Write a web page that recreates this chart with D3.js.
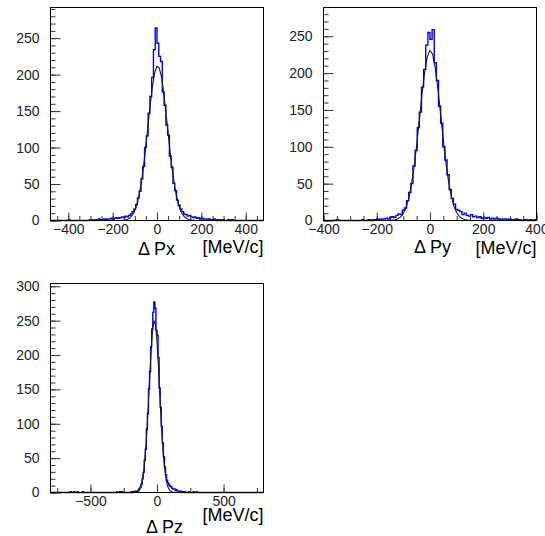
<!DOCTYPE html>
<html>
<head>
<meta charset="utf-8">
<script src="https://cdn.jsdelivr.net/npm/d3@7/dist/d3.min.js"></script>
<style>
    body { margin: 0; background: #fff; }
    svg { display: block; font-family: "Liberation Sans", Arial, sans-serif; }
</style>
</head>
<body>
<svg class="chart"></svg>
<script>
// ---- data ----

// Delta Px : 120 bins of 8 MeV/c from -480 to 480
var pxRange = [-480, 480];
var pxYMax = 292;
var pxCounts = [
    0, 0, 0, 0, 0, 0, 0, 0, 0, 0, 1, 0, 0, 0, 0, 0, 0, 0, 0, 0,
    0, 0, 1, 1, 0, 1, 1, 2, 1, 1, 2, 1, 2, 2, 3, 2, 3, 4, 3, 4,
    5, 4, 6, 5, 7, 9, 12, 16, 22, 31, 40, 57, 74, 100, 116, 147, 170, 196, 234, 264,
    243, 225, 218, 176, 158, 131, 117, 88, 73, 51, 41, 28, 21, 16, 12, 9, 8, 6, 7, 5,
    4, 5, 3, 4, 2, 3, 2, 2, 1, 2, 1, 1, 2, 0, 1, 1, 0, 1, 0, 0,
    1, 0, 1, 0, 0, 0, 0, 0, 0, 0, 0, 0, 0, 0, 0, 0, 0, 0, 0, 0
];
var pxFitX = [-180, -170, -160, -150, -140, -130, -120, -110, -100, -90, -80, -70, -60, -50, -40, -30, -20, -10, 0,
              10, 20, 30, 40, 50, 60, 70, 80, 90, 100, 110, 120, 130, 140, 150, 160, 170];
var pxFitY = [0.04, 0.09, 0.22, 0.5, 1.1, 2.2, 4.3, 7.8, 13.7, 22.7, 35.8, 53.5, 76.1, 102.6, 131.5, 160, 184.9, 203, 211.5,
              209.3, 196.8, 175.6, 148.9, 119.8, 91.6, 66.5, 45.9, 30, 18.7, 11, 6.2, 3.3, 1.7, 0.8, 0.36, 0.16];
var pxXTicks = [-400, -200, 0, 200, 400];
var pxYTicks = [0, 50, 100, 150, 200, 250];

// Delta Py : 100 bins of 8 MeV/c from -400 to 400
var pyRange = [-400, 400];
var pyYMax = 289;
var pyCounts = [
    0, 0, 0, 0, 0, 0, 1, 0, 0, 0, 0, 0, 0, 0, 0, 0, 0, 0, 1, 0,
    0, 1, 0, 1, 1, 2, 1, 2, 2, 3, 2, 4, 5, 4, 7, 9, 8, 14, 17, 27,
    38, 50, 74, 95, 126, 147, 181, 205, 238, 255, 246, 259, 214, 190, 155, 132, 100, 82, 62, 42,
    30, 22, 15, 14, 12, 8, 10, 7, 6, 8, 5, 6, 4, 5, 3, 4, 3, 4, 2, 3,
    2, 3, 2, 1, 2, 2, 1, 2, 1, 1, 2, 1, 1, 0, 1, 1, 0, 1, 0, 1
];
var pyFitX = [-180, -170, -160, -150, -140, -130, -120, -110, -100, -90, -80, -70, -60, -50, -40, -30, -20, -10, 0,
              10, 20, 30, 40, 50, 60, 70, 80, 90, 100, 110, 120, 130, 140, 150, 160, 170];
var pyFitY = [0.01, 0.02, 0.07, 0.19, 0.46, 1.1, 2.4, 4.9, 9.5, 17.4, 29.7, 47.8, 72.2, 102.5, 136.6, 171.1, 201.3, 222.4, 230.9,
              225.2, 206.4, 177.6, 143.6, 109.1, 77.8, 52.2, 32.9, 19.4, 10.8, 5.6, 2.8, 1.3, 0.55, 0.22, 0.09, 0.03];
var pyXTicks = [-400, -200, 0, 200, 400];
var pyYTicks = [0, 50, 100, 150, 200, 250];

// Delta Pz : 200 bins of 8 MeV/c from -800 to 800
var pzRange = [-800, 800];
var pzYMax = 304;
var pzCounts = [
    0, 0, 0, 0, 0, 0, 0, 0, 0, 0, 0, 0, 0, 0, 0, 0, 0, 0, 1, 1,
    0, 0, 1, 0, 0, 1, 0, 0, 0, 0, 1, 0, 0, 0, 0, 0, 0, 0, 0, 0,
    0, 0, 0, 0, 0, 0, 0, 0, 0, 0, 0, 0, 0, 0, 0, 0, 0, 0, 0, 0,
    0, 0, 1, 0, 0, 1, 0, 1, 0, 0, 0, 0, 0, 0, 0, 0, 1, 0, 1, 2,
    1, 2, 3, 5, 8, 12, 20, 29, 47, 63, 92, 115, 151, 176, 212, 238, 262, 277, 268, 236,
    229, 196, 152, 124, 96, 72, 52, 37, 26, 18, 14, 11, 9, 8, 6, 5, 5, 3, 4, 2,
    2, 1, 2, 1, 1, 0, 1, 0, 0, 0, 1, 0, 0, 0, 1, 0, 0, 1, 0, 0,
    0, 0, 0, 0, 0, 0, 0, 0, 0, 0, 0, 0, 0, 0, 0, 0, 0, 0, 0, 0,
    0, 0, 0, 0, 0, 0, 0, 0, 0, 0, 0, 0, 0, 0, 0, 0, 0, 0, 0, 0,
    0, 0, 0, 0, 0, 0, 0, 0, 0, 0, 0, 0, 0, 0, 0, 0, 0, 0, 0, 0
];
var pzFitX = [-180, -170, -160, -150, -140, -130, -120, -110, -100, -90, -80, -70, -60, -50, -40, -30, -20,
              -10, 0, 10, 20, 30, 40, 50, 60, 70, 80, 90, 100, 110, 120, 130, 140];
var pzFitY = [0.06, 0.15, 0.4, 0.97, 2.2, 4.7, 9.3, 17.4, 30.5, 49.9, 76.6, 109.9, 147.7, 186, 219.2, 241.9, 250,
              241.9, 219.2, 186, 147.7, 109.9, 76.6, 49.9, 30.5, 17.4, 9.3, 4.7, 2.2, 0.97, 0.4, 0.15, 0.06];
var pzXTicks = [-500, 0, 500];
var pzYTicks = [0, 50, 100, 150, 200, 250, 300];

function show() {
    'use strict';

    var svg = d3.select('.chart')
        .attr('width', 545)
        .attr('height', 536);

    svg.append('rect').attr('width', 545).attr('height', 536).attr('fill', '#fff');

    // one frame per histogram, placed like the ROOT canvas
    var panels = [
        { left: 50.5, right: 263.5, top: 7.5, bottom: 220.5,
          range: pxRange, yMax: pxYMax, counts: pxCounts, fitX: pxFitX, fitY: pxFitY,
          xTicks: pxXTicks, xMinorStep: 50, yTicks: pxYTicks,
          title: 'Δ Px', titleX: 138, titleY: 255, unitY: 253 },
        { left: 323.5, right: 536.5, top: 7.5, bottom: 220.5,
          range: pyRange, yMax: pyYMax, counts: pyCounts, fitX: pyFitX, fitY: pyFitY,
          xTicks: pyXTicks, xMinorStep: 50, yTicks: pyYTicks,
          title: 'Δ Py', titleX: 414, titleY: 253, unitY: 254 },
        { left: 50.5, right: 263.5, top: 283.5, bottom: 492.5,
          range: pzRange, yMax: pzYMax, counts: pzCounts, fitX: pzFitX, fitY: pzFitY,
          xTicks: pzXTicks, xMinorStep: 250, yTicks: pzYTicks,
          title: 'Δ Pz', titleX: 146, titleY: 533, unitY: 521 }
    ];

    panels.forEach(function (p) { drawPanel(svg, p); });
}

function drawPanel(svg, p) {
    var g = svg.append('g');

    var x = d3.scaleLinear().domain(p.range).range([p.left, p.right]);
    var y = d3.scaleLinear().domain([0, p.yMax]).range([p.bottom, p.top]);

    // turn the bin contents into a step outline
    var binW = (p.range[1] - p.range[0]) / p.counts.length;
    var steps = [];
    p.counts.forEach(function (c, i) {
        var x0 = p.range[0] + i * binW;
        steps.push([x0, c], [x0 + binW, c]);
    });

    var line = d3.line()
        .x(function (d) { return x(d[0]); })
        .y(function (d) { return y(d[1]); });

    g.append('path')
        .datum(steps)
        .attr('d', line)
        .attr('fill', 'none')
        .attr('stroke', '#0000ff')
        .attr('stroke-width', 1.4);

    // gaussian fit on top
    var fit = p.fitX.map(function (v, i) { return [v, p.fitY[i]]; });
    g.append('path')
        .datum(fit)
        .attr('d', line)
        .attr('fill', 'none')
        .attr('stroke', '#1a1a1a')
        .attr('stroke-width', 1.1);

    // ticks point into the frame, like ROOT does it
    var yMinor = d3.axisLeft(y).tickValues(d3.range(0, p.yMax, 10)).tickSize(-5).tickFormat('');
    var yMajor = d3.axisLeft(y).tickValues(p.yTicks).tickSizeInner(-10).tickSizeOuter(0).tickPadding(11);
    var xMinor = d3.axisBottom(x)
        .tickValues(d3.range(Math.ceil(p.range[0] / p.xMinorStep) * p.xMinorStep, p.range[1] + 1, p.xMinorStep))
        .tickSize(-4.5).tickFormat('');
    var xMajor = d3.axisBottom(x).tickValues(p.xTicks).tickSizeInner(-8).tickSizeOuter(0).tickPadding(4);

    g.append('g').attr('transform', 'translate(' + p.left + ',0)').call(yMinor);
    g.append('g').attr('transform', 'translate(' + p.left + ',0)').call(yMajor);
    g.append('g').attr('transform', 'translate(0,' + p.bottom + ')').call(xMinor);
    g.append('g').attr('transform', 'translate(0,' + p.bottom + ')').call(xMajor);

    g.selectAll('.domain').remove();
    g.selectAll('.tick line').attr('stroke', '#333');
    g.selectAll('.tick text')
        .attr('fill', '#222')
        .style('font-size', '14px')
        .style('font-family', '"Liberation Sans", Arial, sans-serif');

    // frame
    g.append('rect')
        .attr('x', p.left)
        .attr('y', p.top)
        .attr('width', p.right - p.left)
        .attr('height', p.bottom - p.top)
        .attr('fill', 'none')
        .attr('stroke', '#000')
        .attr('stroke-width', 1);

    // axis title
    g.append('text')
        .attr('x', p.titleX)
        .attr('y', p.titleY)
        .style('font-size', '18px')
        .text(p.title);
    g.append('text')
        .attr('x', p.right)
        .attr('y', p.unitY)
        .attr('text-anchor', 'end')
        .style('font-size', '18px')
        .text('[MeV/c]');
}

show();
</script>
</body>
</html>
